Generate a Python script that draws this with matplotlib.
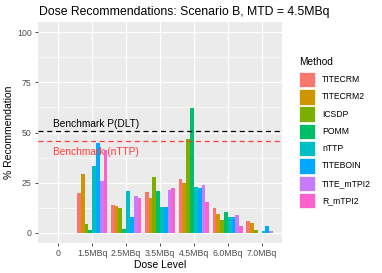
import numpy as np
import matplotlib
matplotlib.use("Agg")
import matplotlib.pyplot as plt
from matplotlib.patches import Rectangle

plt.rcParams["font.family"] = ["Liberation Sans", "DejaVu Sans"]

# ---- data
doses = ["0", "1.5MBq", "2.5MBq", "3.5MBq", "4.5MBq", "6.0MBq", "7.0MBq"]
methods = ["TITECRM", "TITECRM2", "ICSDP", "POMM", "nTTP", "TITEBOIN", "TITE_mTPI2", "R_mTPI2"]
colors = ["#F8766D", "#CD9600", "#7CAE00", "#00BE67", "#00BFC4", "#00A9FF", "#C77CFF", "#FF61CC"]

titecrm = [0, 20.0, 14.0, 20.2, 27.0, 12.5, 5.8]
titecrm2 = [0, 29.5, 13.3, 17.2, 24.7, 9.5, 4.8]
icsdp = [0, 4.3, 12.5, 27.8, 46.7, 6.2, 1.7]
pomm = [0, 1.7, 2.2, 20.8, 62.2, 10.2, 0.2]
nttp = [0, 33.5, 21.0, 13.0, 22.8, 8.0, 0.8]
titeboin = [0, 44.7, 8.0, 12.7, 22.3, 8.0, 3.3]
tite_mtpi2 = [0, 25.8, 18.5, 21.2, 23.7, 9.0, 1.0]
r_mtpi2 = [0, 41.3, 17.2, 22.3, 15.3, 3.5, 0.2]
values = [titecrm, titecrm2, icsdp, pomm, nttp, titeboin, tite_mtpi2, r_mtpi2]

bench_dlt = 50.5
bench_nttp = 45.8

W, H = 382, 273
fig = plt.figure(figsize=(W / 100, H / 100), dpi=100)
ax = fig.add_axes([38 / W, 1 - 243 / H, (282 - 38) / W, (243 - 22) / H])
ax.set_facecolor("#EBEBEB")

x = np.arange(len(doses))
bw = 0.9 / len(methods)
for i, (m, c) in enumerate(zip(methods, colors)):
    off = (i - (len(methods) - 1) / 2) * bw
    ax.bar(x + off, values[i], width=bw, color=c, zorder=3, linewidth=0)

ax.axhline(bench_dlt, color="black", ls=(0, (4, 3)), lw=0.9, zorder=4)
ax.axhline(bench_nttp, color="#FF3B3B", ls=(0, (4, 3)), lw=0.9, zorder=4)
ax.text(-0.15, bench_dlt + 1.2, "Benchmark P(DLT)", color="black", fontsize=7.3,
        va="bottom", ha="left", zorder=5)
ax.text(-0.15, bench_nttp - 3.2, "Benchmark (nTTP)", color="#FF3B3B", fontsize=7.3,
        va="top", ha="left", zorder=5)

ax.set_xlim(-0.6, len(doses) - 0.4)
ax.set_ylim(-5, 105)
ax.set_xticks(x)
ax.set_xticklabels(doses)
ax.set_yticks([0, 25, 50, 75, 100])
ax.set_yticks([12.5, 37.5, 62.5, 87.5], minor=True)
ax.grid(which="major", color="white", lw=0.9, zorder=1)
ax.grid(which="minor", axis="y", color="white", lw=0.45, zorder=1)
ax.tick_params(which="major", length=2.5, width=0.6, color="#333333",
               labelsize=6.3, labelcolor="#4D4D4D", pad=2)
ax.tick_params(which="minor", length=0)
for s in ax.spines.values():
    s.set_visible(False)

ax.set_xlabel("Dose Level", fontsize=7.5, labelpad=1)
ax.set_ylabel("% Recommendation", fontsize=7.5, labelpad=2)
fig.text(39 / W, 1 - 12 / H, "Dose Recommendations: Scenario B, MTD = 4.5MBq",
         fontsize=8.8, ha="left", va="center")

# legend, drawn by hand ggplot style
fig.text(299 / W, 1 - 61.7 / H, "Method", fontsize=7.3, ha="left", va="center")
for i, (m, c) in enumerate(zip(methods, colors)):
    y0 = 71.7 + i * 17.3
    fig.patches.append(Rectangle((299 / W, 1 - (y0 + 15.5) / H), 16 / W, 15.5 / H,
                                 transform=fig.transFigure, facecolor=c,
                                 edgecolor="white", lw=0.5))
    fig.text(322 / W, 1 - (y0 + 7.8) / H, m, fontsize=6.2, ha="left", va="center")

fig.savefig("out.png", dpi=100)
